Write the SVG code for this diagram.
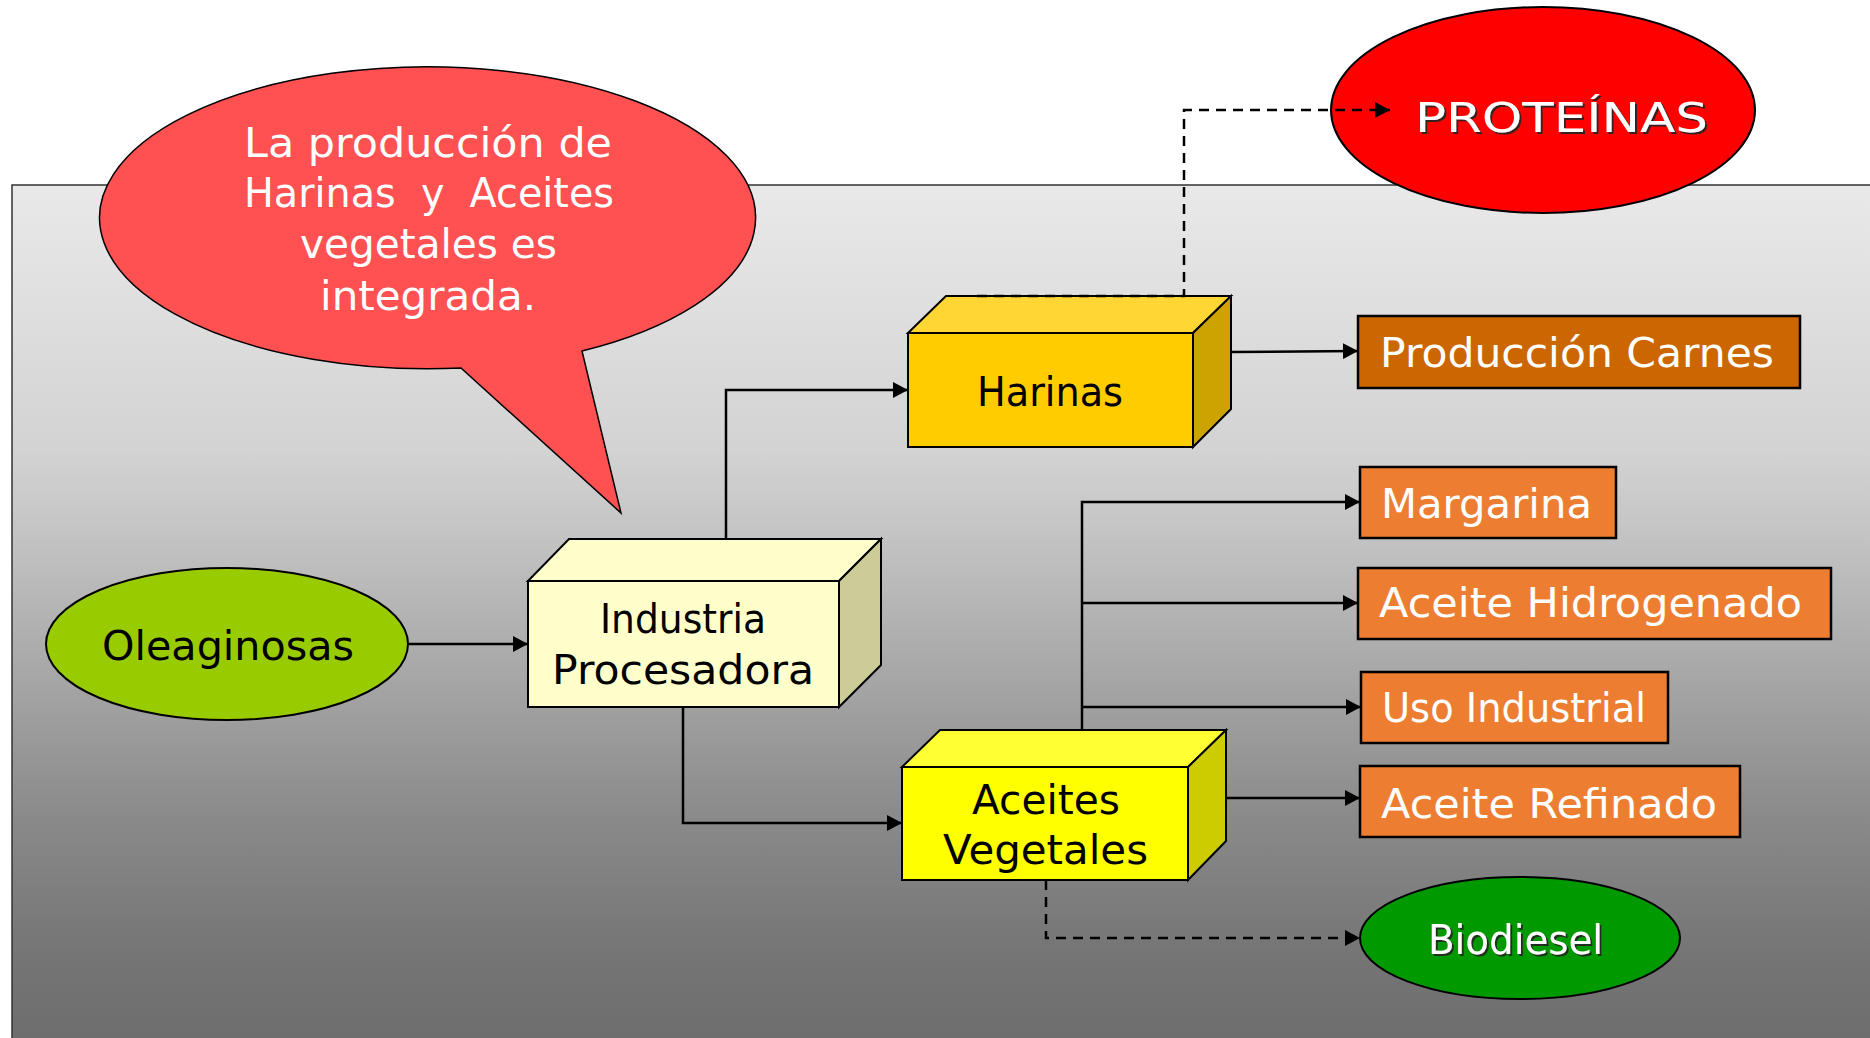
<svg xmlns="http://www.w3.org/2000/svg" width="1870" height="1038" viewBox="0 0 1870 1038">
<defs>
<linearGradient id="bg" x1="0" y1="185" x2="0" y2="1038" gradientUnits="userSpaceOnUse">
<stop offset="0" stop-color="#e9e9e9"/>
<stop offset="0.31" stop-color="#d3d3d3"/>
<stop offset="0.39" stop-color="#c7c7c7"/>
<stop offset="0.74" stop-color="#8a8a8a"/>
<stop offset="0.9" stop-color="#757575"/>
<stop offset="1" stop-color="#6e6e6e"/>
</linearGradient>
<marker id="arr" viewBox="0 0 15 16" refX="15" refY="8" markerWidth="15" markerHeight="16" markerUnits="userSpaceOnUse" orient="auto">
<path d="M0,0 L15,8 L0,16 Z" fill="#000"/>
</marker>
<filter id="sh" x="-10%" y="-20%" width="130%" height="150%">
<feDropShadow dx="2" dy="2" stdDeviation="0.6" flood-color="#222" flood-opacity="0.9"/>
</filter>
</defs>
<style>
text{font-family:"DejaVu Sans","Liberation Sans",sans-serif;font-size:40px}
.w{fill:#fff}
.k{fill:#000}
.box{stroke:#000;stroke-width:2;stroke-linejoin:miter}
.out{fill:#ed7d31;stroke:#000;stroke-width:2.5}
.c{fill:none;stroke:#000;stroke-width:2.5}
.d{fill:none;stroke:#000;stroke-width:2.5;stroke-dasharray:10,7}
</style>
<rect x="12" y="185" width="1870" height="870" fill="url(#bg)" stroke="#333" stroke-width="1.5"/>

<g id="bubble">
<path d="M461,368 L621,513 L582,351 A328,151 0 1 0 461,368 Z" fill="#ff5151" stroke="#000" stroke-width="1.5"/>
<text class="w" x="244" y="157" font-size="43" textLength="368" lengthAdjust="spacingAndGlyphs">La producción de</text>
<text class="w" x="244" y="207" font-size="43" textLength="370" lengthAdjust="spacingAndGlyphs" xml:space="preserve">Harinas  y  Aceites</text>
<text class="w" x="300" y="258" font-size="43" textLength="257" lengthAdjust="spacingAndGlyphs">vegetales es</text>
<text class="w" x="320" y="310" font-size="43" textLength="216" lengthAdjust="spacingAndGlyphs">integrada.</text>
</g>

<g id="proteinas">
<ellipse cx="1543" cy="110" rx="212" ry="103" fill="#ff0000" stroke="#000" stroke-width="2"/>
<text class="w" x="1415" y="132" font-size="56" textLength="293" lengthAdjust="spacingAndGlyphs" filter="url(#sh)">PROTEÍNAS</text>
</g>

<g id="oleaginosas">
<ellipse cx="227" cy="644" rx="181" ry="76" fill="#99cc00" stroke="#000" stroke-width="2"/>
<text class="k" x="102" y="660" textLength="252" lengthAdjust="spacingAndGlyphs">Oleaginosas</text>
</g>

<g id="industria">
<path class="box" d="M528,581 L569,539 L881,539 L839,581 Z" fill="#ffffcc"/>
<path class="box" d="M839,581 L881,539 L881,665 L839,707 Z" fill="#cccc99"/>
<rect class="box" x="528" y="581" width="311" height="126" fill="#ffffcc"/>
<text class="k" x="600" y="633" textLength="166" lengthAdjust="spacingAndGlyphs">Industria</text>
<text class="k" x="552" y="684" textLength="262" lengthAdjust="spacingAndGlyphs">Procesadora</text>
</g>

<g id="harinas">
<path class="box" d="M908,333 L946,296 L1231,296 L1193,333 Z" fill="#ffd633"/>
<path class="box" d="M1193,333 L1231,296 L1231,409 L1193,447 Z" fill="#cca300"/>
<rect class="box" x="908" y="333" width="285" height="114" fill="#ffcc00"/>
<text class="k" x="977" y="406" textLength="146" lengthAdjust="spacingAndGlyphs">Harinas</text>
</g>

<g id="aceites">
<path class="box" d="M902,767 L940,730 L1226,730 L1188,767 Z" fill="#ffff33"/>
<path class="box" d="M1188,767 L1226,730 L1226,841 L1188,880 Z" fill="#cccc00"/>
<rect class="box" x="902" y="767" width="286" height="113" fill="#ffff00"/>
<text class="k" x="972" y="814" textLength="148" lengthAdjust="spacingAndGlyphs">Aceites</text>
<text class="k" x="943" y="864" textLength="205" lengthAdjust="spacingAndGlyphs">Vegetales</text>
</g>

<g id="carnes">
<rect x="1358" y="316" width="442" height="72" fill="#cc6600" stroke="#000" stroke-width="2.5"/>
<text class="w" x="1380" y="367" textLength="394" lengthAdjust="spacingAndGlyphs">Producción Carnes</text>
</g>

<g id="margarina">
<rect class="out" x="1360" y="467" width="256" height="71"/>
<text class="w" x="1381" y="518" textLength="211" lengthAdjust="spacingAndGlyphs">Margarina</text>
</g>

<g id="hidrogenado">
<rect class="out" x="1358" y="568" width="473" height="71"/>
<text class="w" x="1379" y="617" textLength="423" lengthAdjust="spacingAndGlyphs">Aceite Hidrogenado</text>
</g>

<g id="uso">
<rect class="out" x="1361" y="672" width="307" height="71"/>
<text class="w" x="1382" y="722" textLength="264" lengthAdjust="spacingAndGlyphs">Uso Industrial</text>
</g>

<g id="refinado">
<rect class="out" x="1360" y="766" width="380" height="71"/>
<text class="w" x="1381" y="818" textLength="336" lengthAdjust="spacingAndGlyphs">Aceite Refinado</text>
</g>

<g id="biodiesel">
<ellipse cx="1520" cy="938" rx="160" ry="61" fill="#009900" stroke="#000" stroke-width="2"/>
<text class="w" x="1428" y="954" textLength="175" lengthAdjust="spacingAndGlyphs" filter="url(#sh)">Biodiesel</text>
</g>

<g id="connectors">
<path class="c" d="M409,644 L528,644" marker-end="url(#arr)"/>
<path class="c" d="M726,539 L726,390 L908,390" marker-end="url(#arr)"/>
<path class="c" d="M683,707 L683,823 L902,823" marker-end="url(#arr)"/>
<path class="c" d="M1231,352 L1358,351" marker-end="url(#arr)"/>
<path class="d" d="M977,296 L1184,296 L1184,110 L1390,110" marker-end="url(#arr)"/>
<path class="c" d="M1082,730 L1082,502 L1360,502" marker-end="url(#arr)"/>
<path class="c" d="M1082,603 L1358,603" marker-end="url(#arr)"/>
<path class="c" d="M1082,707 L1361,707" marker-end="url(#arr)"/>
<path class="c" d="M1226,798 L1360,798" marker-end="url(#arr)"/>
<path class="d" d="M1046,880 L1046,938 L1360,938" marker-end="url(#arr)"/>
</g>
</svg>
